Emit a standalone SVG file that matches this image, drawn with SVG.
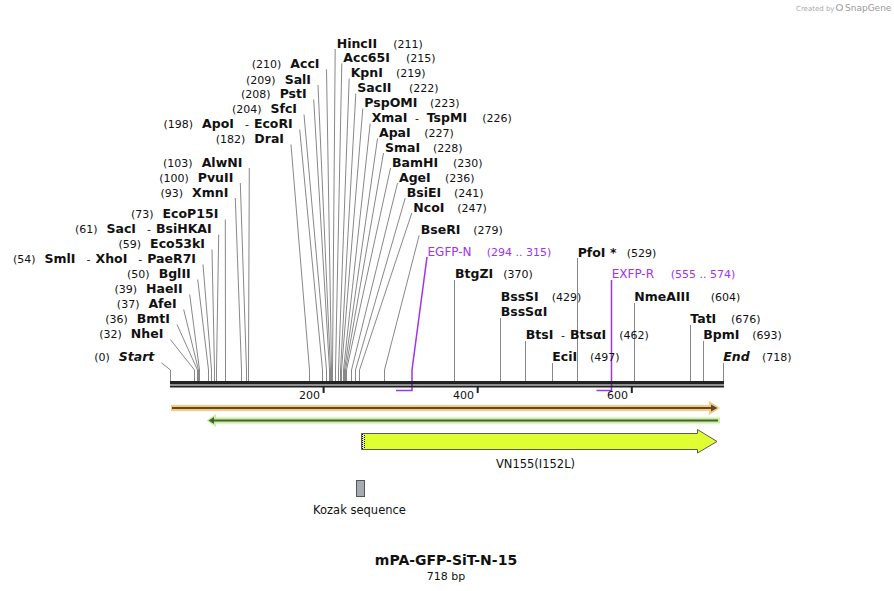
<svg xmlns="http://www.w3.org/2000/svg" width="894" height="591" viewBox="0 0 894 591">
<style>
text{font-family:"DejaVu Sans","Liberation Sans",sans-serif;fill:#111}
.b{font-weight:bold;font-size:12.5px}
.n{font-size:11px}
.i{font-style:italic}
.L{text-anchor:end}
.p{fill:#a033ee}
.c line,.c polyline{fill:none;stroke:#888;stroke-width:1}
.c .pr{fill:none;stroke:#a033ee;stroke-width:1.5}
</style>
<rect width="894" height="591" fill="#fff"/>
<g id="watermark">
<text x="796" y="10.5" style="font-size:7px;fill:#aaa">Created by</text>
<circle cx="839.5" cy="7.5" r="3" fill="none" stroke="#aaa" stroke-width="1.2"/>
<text x="845" y="11" style="font-size:9px;fill:#999">SnapGene</text>
</g>
<g id="connectors" class="c">
<polyline points="326.5,69.3 331.5,370 331.5,381"/>
<polyline points="318,85 330.5,370 330.5,381"/>
<polyline points="313.7,99.5 329.5,370 329.5,381"/>
<polyline points="304,114.5 326.5,370 326.5,381"/>
<polyline points="299.7,129.5 322.5,370 322.5,381"/>
<polyline points="291,144.5 309.5,370 309.5,381"/>
<polyline points="249.3,168 248.5,370 248.5,381"/>
<polyline points="240.3,183 246.5,370 246.5,381"/>
<polyline points="235.3,198 241.5,370 241.5,381"/>
<polyline points="225.3,219.5 225.5,370 225.5,381"/>
<polyline points="218.7,234.5 216.5,370 216.5,381"/>
<polyline points="212,249.5 214.5,370 214.5,381"/>
<polyline points="203,264.5 211.5,370 211.5,381"/>
<polyline points="197.7,279.5 208.5,370 208.5,381"/>
<polyline points="189.7,294.5 199.5,370 199.5,381"/>
<polyline points="183.7,309.5 198.5,370 198.5,381"/>
<polyline points="177,324.5 197.5,370 197.5,381"/>
<polyline points="170.3,339.5 194.5,370 194.5,381"/>
<polyline points="161.3,362.7 170.5,370 170.5,381"/>
<polyline points="335.2,49 332.5,370 332.5,381"/>
<polyline points="341.8,63.5 335.5,370 335.5,381"/>
<polyline points="349.2,78.5 338.5,370 338.5,381"/>
<polyline points="355.8,93.5 340.5,370 340.5,381"/>
<polyline points="362.8,108.5 341.5,370 341.5,381"/>
<polyline points="370.2,123.5 343.5,370 343.5,381"/>
<polyline points="377.5,138.5 344.5,370 344.5,381"/>
<polyline points="383.5,153 345.5,370 345.5,381"/>
<polyline points="390.5,168 346.5,370 346.5,381"/>
<polyline points="397.5,183 351.5,370 351.5,381"/>
<polyline points="405.2,198 355.5,370 355.5,381"/>
<polyline points="411.8,213 359.5,370 359.5,381"/>
<polyline points="419.2,235.3 384.5,370 384.5,381"/>
<line x1="454.5" y1="280" x2="454.5" y2="381"/>
<line x1="500.5" y1="318" x2="500.5" y2="381"/>
<line x1="525.5" y1="341" x2="525.5" y2="381"/>
<line x1="552.5" y1="363" x2="552.5" y2="381"/>
<line x1="577.5" y1="258" x2="577.5" y2="381"/>
<line x1="634.5" y1="303" x2="634.5" y2="381"/>
<line x1="690.5" y1="325" x2="690.5" y2="381"/>
<line x1="703.5" y1="341" x2="703.5" y2="381"/>
<line x1="723.5" y1="363" x2="723.5" y2="381"/>
<polyline class="pr" points="427,257 412,370 412,390.5 396,390.5"/>
<polyline class="pr" points="611.5,280 611.5,390.5 596.5,390.5"/>
</g>
<g id="sequence">
<rect x="170" y="381" width="554" height="3.5" fill="#222"/>
<rect x="170" y="385.5" width="554" height="2" fill="#222"/>
<rect x="322.6" y="387" width="2" height="6" fill="#222"/>
<rect x="476.7" y="387" width="2" height="6" fill="#222"/>
<rect x="630.8" y="387" width="2" height="6" fill="#222"/>
<text class="n" x="320" y="398.5" text-anchor="end">200</text>
<text class="n" x="474" y="398.5" text-anchor="end">400</text>
<text class="n" x="628" y="398.5" text-anchor="end">600</text>
</g>
<g id="bar-orange">
<rect x="171" y="405" width="541" height="6" fill="#fcc97b"/>
<polygon points="709,401 720,408 709,415" fill="#fcc97b"/>
<line x1="172" y1="408" x2="713" y2="408" stroke="#5c4a30" stroke-width="2"/>
<polygon points="711,404.5 717.5,408 711,411.5" fill="#5c4a30"/>
</g>
<g id="bar-green">
<rect x="212" y="417.5" width="508" height="6" fill="#c3f394"/>
<polygon points="216,414 206.5,420.5 216,427" fill="#c3f394"/>
<line x1="212" y1="420.5" x2="718" y2="420.5" stroke="#4c5c42" stroke-width="2"/>
<polygon points="214,417 208.5,420.5 214,424" fill="#4c5c42"/>
</g>
<g id="VN155">
<path d="M361.5,433.5 H697.5 V429.5 L717,441.5 L697.5,453 V449.5 H361.5 Z" fill="#e0ff33" stroke="#5a5a5a" stroke-width="1"/>
<line x1="362.5" y1="434" x2="362.5" y2="449" stroke="#000" stroke-width="1" stroke-dasharray="1 1"/>
<line x1="364.5" y1="435" x2="364.5" y2="449" stroke="#000" stroke-width="1" stroke-dasharray="1 1"/>
<text x="535.5" y="467.5" text-anchor="middle" style="font-size:11.5px">VN155(I152L)</text>
</g>
<g id="Kozak">
<rect x="356.5" y="480.5" width="8" height="16" fill="#a6aab1" stroke="#555" stroke-width="1"/>
<text x="359.5" y="514" text-anchor="middle" style="font-size:11.5px">Kozak sequence</text>
</g>
<g id="labels-left" xml:space="preserve">
<text class="L" x="319.5" y="67.8"><tspan class="n">(210)</tspan><tspan class="b" dx="9">AccI</tspan></text>
<text class="L" x="311" y="83.5"><tspan class="n">(209)</tspan><tspan class="b" dx="9">SalI</tspan></text>
<text class="L" x="306.7" y="97.5"><tspan class="n">(208)</tspan><tspan class="b" dx="9">PstI</tspan></text>
<text class="L" x="297" y="112.5"><tspan class="n">(204)</tspan><tspan class="b" dx="9">SfcI</tspan></text>
<text class="L" x="292.7" y="127.5"><tspan class="n">(198)</tspan><tspan class="b" dx="9">ApoI</tspan><tspan class="n" dx="11">-</tspan><tspan class="b" dx="5">EcoRI</tspan></text>
<text class="L" x="284" y="142.5"><tspan class="n">(182)</tspan><tspan class="b" dx="9">DraI</tspan></text>
<text class="L" x="242.3" y="167"><tspan class="n">(103)</tspan><tspan class="b" dx="9">AlwNI</tspan></text>
<text class="L" x="233.3" y="181.5"><tspan class="n">(100)</tspan><tspan class="b" dx="9">PvuII</tspan></text>
<text class="L" x="228.3" y="196.5"><tspan class="n">(93)</tspan><tspan class="b" dx="9">XmnI</tspan></text>
<text class="L" x="218.3" y="218"><tspan class="n">(73)</tspan><tspan class="b" dx="9">EcoP15I</tspan></text>
<text class="L" x="211.7" y="233"><tspan class="n">(61)</tspan><tspan class="b" dx="9">SacI</tspan><tspan class="n" dx="11">-</tspan><tspan class="b" dx="5">BsiHKAI</tspan></text>
<text class="L" x="205" y="248"><tspan class="n">(59)</tspan><tspan class="b" dx="9">Eco53kI</tspan></text>
<text class="L" x="196" y="263"><tspan class="n">(54)</tspan><tspan class="b" dx="9">SmlI</tspan><tspan class="n" dx="11">-</tspan><tspan class="b" dx="5">XhoI</tspan><tspan class="n" dx="11">-</tspan><tspan class="b" dx="5">PaeR7I</tspan></text>
<text class="L" x="190.7" y="278"><tspan class="n">(50)</tspan><tspan class="b" dx="9">BglII</tspan></text>
<text class="L" x="182.7" y="293"><tspan class="n">(39)</tspan><tspan class="b" dx="9">HaeII</tspan></text>
<text class="L" x="176.7" y="308"><tspan class="n">(37)</tspan><tspan class="b" dx="9">AfeI</tspan></text>
<text class="L" x="170" y="323"><tspan class="n">(36)</tspan><tspan class="b" dx="9">BmtI</tspan></text>
<text class="L" x="163.3" y="338"><tspan class="n">(32)</tspan><tspan class="b" dx="9">NheI</tspan></text>
<text class="L" x="154.3" y="361"><tspan class="n">(0)</tspan><tspan class="b i" dx="9">Start</tspan></text>
</g>
<g id="labels-right">
<text y="47.5"><tspan class="b" x="336.7">HincII</tspan><tspan class="n" x="393.3">(211)</tspan></text>
<text y="62"><tspan class="b" x="343.3">Acc65I</tspan><tspan class="n" x="406">(215)</tspan></text>
<text y="77"><tspan class="b" x="350.7">KpnI</tspan><tspan class="n" x="396">(219)</tspan></text>
<text y="92"><tspan class="b" x="357.3">SacII</tspan><tspan class="n" x="409">(222)</tspan></text>
<text y="107"><tspan class="b" x="364.3">PspOMI</tspan><tspan class="n" x="430">(223)</tspan></text>
<text y="122"><tspan class="b" x="371.7">XmaI</tspan><tspan class="n" x="415">-</tspan><tspan class="b" x="426.7">TspMI</tspan><tspan class="n" x="482.3">(226)</tspan></text>
<text y="137"><tspan class="b" x="379">ApaI</tspan><tspan class="n" x="424.3">(227)</tspan></text>
<text y="152"><tspan class="b" x="385">SmaI</tspan><tspan class="n" x="433">(228)</tspan></text>
<text y="167"><tspan class="b" x="392">BamHI</tspan><tspan class="n" x="453">(230)</tspan></text>
<text y="182"><tspan class="b" x="399">AgeI</tspan><tspan class="n" x="445">(236)</tspan></text>
<text y="197"><tspan class="b" x="406.7">BsiEI</tspan><tspan class="n" x="454">(241)</tspan></text>
<text y="211.5"><tspan class="b" x="413.3">NcoI</tspan><tspan class="n" x="457.3">(247)</tspan></text>
<text y="234"><tspan class="b" x="420.7">BseRI</tspan><tspan class="n" x="473.3">(279)</tspan></text>
<text y="256" class="p"><tspan class="p" x="427.5" style="font-size:12px">EGFP-N</tspan><tspan class="n p" x="486.7">(294 .. 315)</tspan></text>
<text y="278"><tspan class="b" x="455">BtgZI</tspan><tspan class="n" x="503.3">(370)</tspan></text>
<text y="256.5"><tspan class="b" x="577.7">PfoI *</tspan><tspan class="n" x="626.7">(529)</tspan></text>
<text y="278" class="p"><tspan class="p" x="611.7" style="font-size:12px">EXFP-R</tspan><tspan class="n p" x="670.7">(555 .. 574)</tspan></text>
<text y="301"><tspan class="b" x="500.7">BssSI</tspan><tspan class="n" x="551.7">(429)</tspan></text>
<text y="315.5" class="b" x="500.7">BssSαI</text>
<text y="301"><tspan class="b" x="634.3">NmeAIII</tspan><tspan class="n" x="710.7">(604)</tspan></text>
<text y="323"><tspan class="b" x="690.3">TatI</tspan><tspan class="n" x="731">(676)</tspan></text>
<text y="338.5"><tspan class="b" x="525.7">BtsI</tspan><tspan class="n" x="561">-</tspan><tspan class="b" x="570">BtsαI</tspan><tspan class="n" x="619.3">(462)</tspan></text>
<text y="338.5"><tspan class="b" x="703.3">BpmI</tspan><tspan class="n" x="752.3">(693)</tspan></text>
<text y="361"><tspan class="b" x="552.3">EciI</tspan><tspan class="n" x="590">(497)</tspan></text>
<text y="361"><tspan class="b i" x="723.3">End</tspan><tspan class="n" x="762">(718)</tspan></text>
</g>
<g id="title">
<text x="446" y="565" text-anchor="middle" style="font-size:14px;font-weight:bold">mPA-GFP-SiT-N-15</text>
<text x="446" y="580" text-anchor="middle" style="font-size:11px">718 bp</text>
</g>
</svg>
